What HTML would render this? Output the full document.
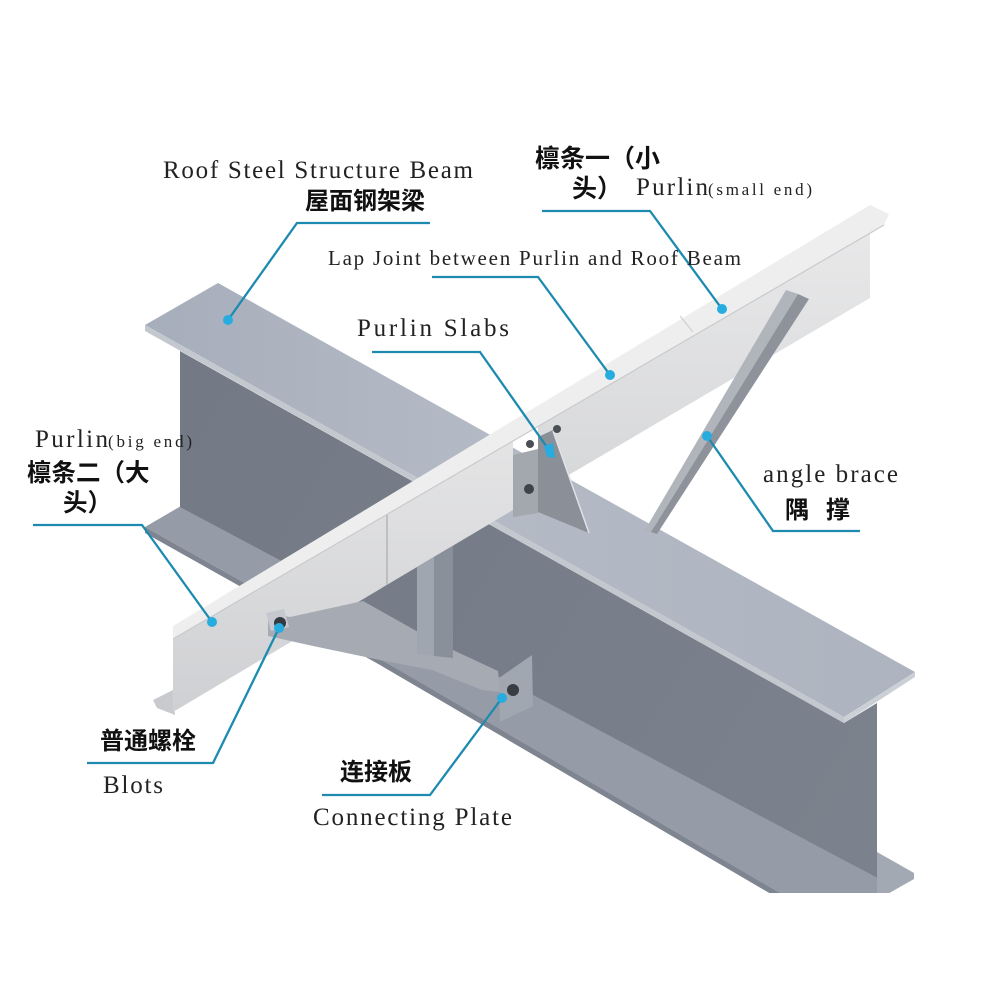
<!DOCTYPE html>
<html><head><meta charset="utf-8"><style>
html,body{margin:0;padding:0;background:#fff;}
svg{display:block}
.l{font-family:"Liberation Serif",serif;fill:#222;}
.c{font-family:"Liberation Sans","Noto Sans CJK SC",sans-serif;fill:#111;font-weight:bold;}
</style></head><body>
<svg width="1000" height="1000" viewBox="0 0 1000 1000" xmlns="http://www.w3.org/2000/svg">
<defs>
<linearGradient id="tf" x1="145" y1="0" x2="915" y2="0" gradientUnits="userSpaceOnUse">
 <stop offset="0" stop-color="#a7aebb"/><stop offset="0.45" stop-color="#b4bac5"/><stop offset="1" stop-color="#adb4bf"/>
</linearGradient>
<linearGradient id="web" x1="180" y1="400" x2="877" y2="800" gradientUnits="userSpaceOnUse">
 <stop offset="0" stop-color="#737985"/><stop offset="1" stop-color="#7c828d"/>
</linearGradient>
<linearGradient id="pw" x1="0" y1="0" x2="0" y2="1">
 <stop offset="0" stop-color="#e4e4e5"/><stop offset="1" stop-color="#cfd0d3"/>
</linearGradient>
<linearGradient id="pw2" x1="0" y1="0" x2="0" y2="1">
 <stop offset="0" stop-color="#e8e8e9"/><stop offset="1" stop-color="#d6d7d9"/>
</linearGradient>
</defs>
<rect width="1000" height="1000" fill="#fff"/>

<!-- main beam -->
<polygon points="877,852 914,873 914,879 877,900" fill="#a3a9b3"/>
<polygon points="145,527 181,506 877,878 877,910 800,910 380,659" fill="#959ca7"/>
<polygon points="145,527 380,659 800,905 800,911 380,665 145,533" fill="#7f8590"/>
<polygon points="180,351 844,723 877,703 877,878 180,507" fill="url(#web)"/>
<polygon points="218,283 915,672 844,717 145,325" fill="url(#tf)"/>
<polygon points="145,325 844,717 844,723 145,331" fill="#c3c8cf"/>
<polygon points="844,717 915,672 915,677 844,723" fill="#cbd0d6"/>
<rect x="0" y="893" width="1000" height="107" fill="#fff"/>

<!-- purlin -->
<polygon points="173,690 153,700 157,708 175,715" fill="#c9cacd"/>
<polygon points="173,637 513,441 513,510 173,712" fill="url(#pw)"/>
<polygon points="538,426 870,232 870,298 538,493" fill="url(#pw2)"/>
<line x1="387" y1="513" x2="387" y2="585" stroke="#b3b5b9" stroke-width="1.5"/>
<polygon points="513,455 538,449 538,513 513,517" fill="#a3a7ae"/>
<circle cx="529" cy="489" r="5" fill="#3e4249"/>
<polygon points="538,437 553,430 589,533 538,512" fill="#8a8f98"/>
<line x1="553" y1="431" x2="589" y2="533" stroke="#dfe2e6" stroke-width="1.5"/>
<polygon points="173,626 870,205 889,214 884,225 173,639" fill="#eeeeee"/>
<line x1="173" y1="639" x2="884" y2="225" stroke="#c9cacc" stroke-width="1.2"/>
<line x1="680" y1="316" x2="693" y2="332" stroke="#cfd0d2" stroke-width="1.2"/>
<circle cx="530" cy="444" r="4" fill="#4a4e55"/>
<circle cx="557" cy="429" r="4" fill="#4a4e55"/>

<!-- kicker, post, plate -->
<polygon points="268,613 290,617 363,601 420,633 455,651 498,671 500,692 482,690 432,670 380,660 313,646 268,636" fill="#a6abb3"/>
<polygon points="266,613 284,609 289,627 271,631" fill="#c5c9cf"/>
<circle cx="280" cy="623" r="6" fill="#353940"/>
<polygon points="417,567 434,557 434,656 417,654" fill="#a0a6b0"/>
<polygon points="434,557 453,546 453,658 434,656" fill="#8a909a"/>
<polygon points="499,678 532,655 533,706 500,722" fill="#a1a7b0"/>
<circle cx="513" cy="690" r="6" fill="#383c43"/>

<!-- angle brace -->
<polygon points="786,290 798,294 651,532 645,530" fill="#b0b4bb"/>
<polygon points="798,294 809,299 657,534 651,532" fill="#8e939b"/>

<!-- leaders -->
<g fill="none" stroke="#1d8ab0" stroke-width="2.3">
<polyline points="430,223 297,223 228,320"/>
<polyline points="542,211 650,211 722,309"/>
<polyline points="432,277 538,277 610,375"/>
<polyline points="372,352 480,352 549,450"/>
<polyline points="33,525 142,525 212,622"/>
<polyline points="860,531 773,531 707,436"/>
<polyline points="87,763 213,763 279,628"/>
<polyline points="322,795 430,795 502,698"/>
</g>
<g fill="#27ace0">
<circle cx="228" cy="320" r="5"/>
<circle cx="722" cy="309" r="5"/>
<circle cx="610" cy="375" r="5"/>
<polygon points="544,446 553,443 555,458 547,457"/>
<circle cx="212" cy="622" r="5"/>
<circle cx="707" cy="436" r="5"/>
<circle cx="279" cy="628" r="5"/>
<circle cx="502" cy="698" r="5"/>
</g>

<!-- labels -->
<text class="l" x="163" y="178" font-size="25" textLength="310" lengthAdjust="spacing">Roof Steel Structure Beam</text>
<text class="c" x="305" y="209" font-size="24">屋面钢架梁</text>
<text class="c" x="535" y="167" font-size="25">檩条一（小</text>
<text class="c" x="572" y="197" font-size="25">头）</text>
<text class="l" x="636" y="195" font-size="25" textLength="72" lengthAdjust="spacing">Purlin</text>
<text class="l" x="708" y="195" font-size="17" textLength="104" lengthAdjust="spacing">(small end)</text>
<text class="l" x="328" y="265" font-size="21" textLength="413" lengthAdjust="spacing">Lap Joint between Purlin and Roof Beam</text>
<text class="l" x="357" y="336" font-size="25" textLength="152" lengthAdjust="spacing">Purlin Slabs</text>
<text class="l" x="35" y="447" font-size="25" textLength="73" lengthAdjust="spacing">Purlin</text>
<text class="l" x="108" y="447" font-size="17" textLength="84" lengthAdjust="spacing">(big end)</text>
<text class="c" x="27" y="481" font-size="24.5">檩条二（大</text>
<text class="c" x="63" y="511" font-size="24.5">头）</text>
<text class="l" x="763" y="482" font-size="25" textLength="135" lengthAdjust="spacing">angle brace</text>
<text class="c" x="785" y="518" font-size="24" textLength="65">隅 撑</text>
<text class="c" x="100" y="749" font-size="24">普通螺栓</text>
<text class="l" x="103" y="793" font-size="25" textLength="60" lengthAdjust="spacing">Blots</text>
<text class="c" x="340" y="780" font-size="24">连接板</text>
<text class="l" x="313" y="825" font-size="25" textLength="199" lengthAdjust="spacing">Connecting Plate</text>
</svg>
</body></html>
